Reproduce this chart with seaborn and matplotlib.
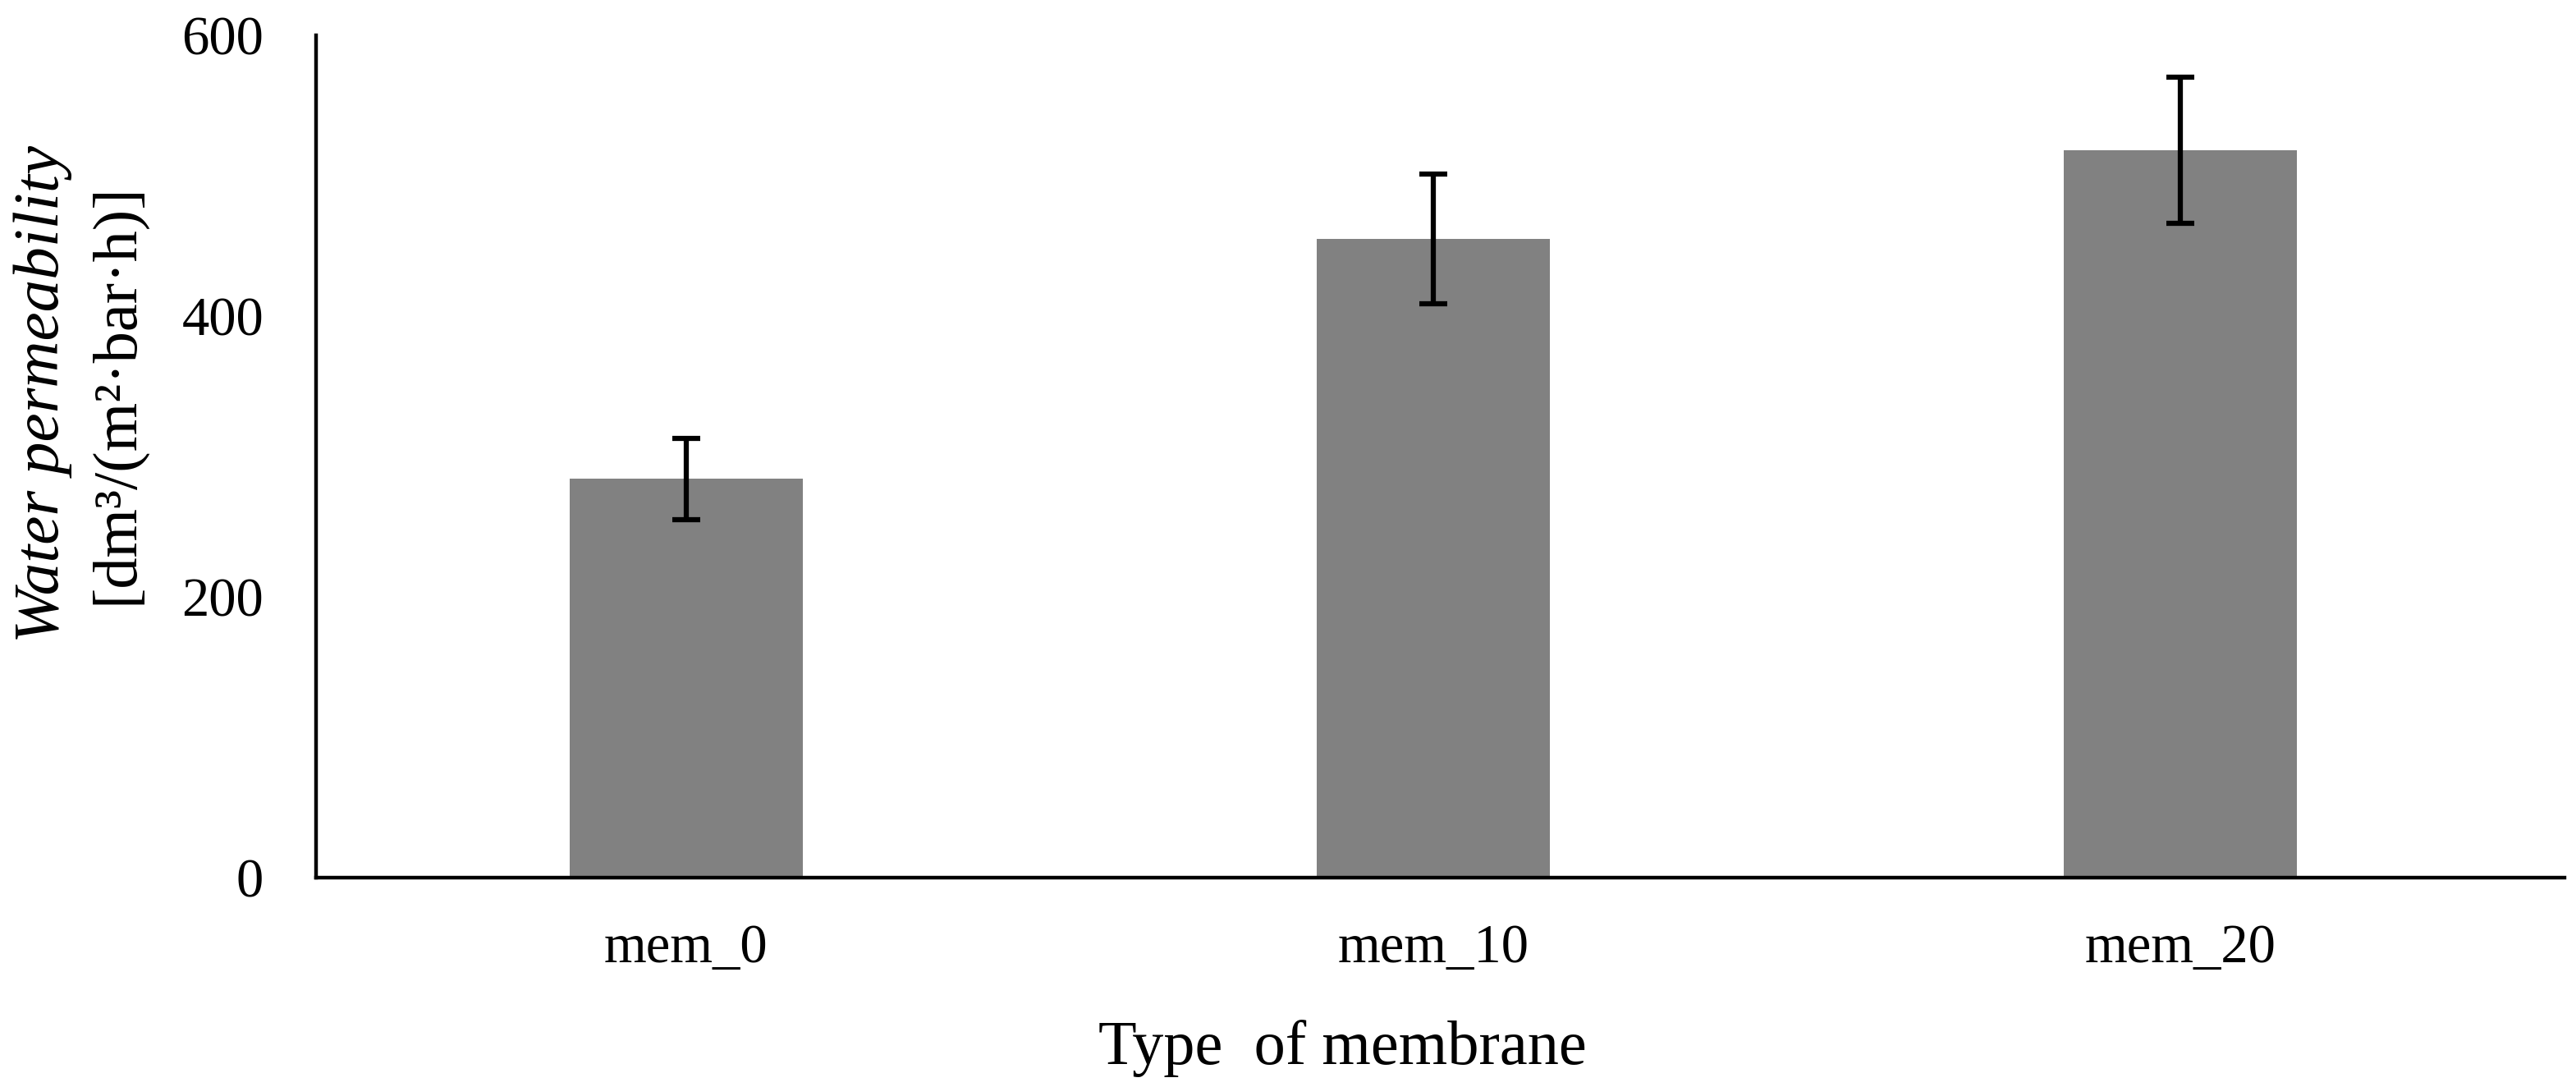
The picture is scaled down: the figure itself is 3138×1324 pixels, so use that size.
import matplotlib
matplotlib.use("Agg")
import matplotlib.pyplot as plt
import numpy as np
import pandas as pd
import seaborn as sns

sns.set_style("white")
plt.rcParams['font.family'] = ['Liberation Serif', 'DejaVu Serif']
plt.rcParams['text.color'] = 'black'
plt.rcParams['xtick.labelcolor'] = 'black'
plt.rcParams['ytick.labelcolor'] = 'black'
plt.rcParams['axes.labelcolor'] = 'black'

membranes = ["mem_0", "mem_10", "mem_20"]
permeability = [284, 455, 518]
perm_err = [29, 46, 52]

df = pd.DataFrame({"Membrane": membranes, "Permeability": permeability})

fig = plt.figure(figsize=(31.38, 13.24), dpi=100)
ax = fig.add_axes([0.1227, 0.1926, 0.8728, 0.7749])

sns.barplot(data=df, x="Membrane", y="Permeability", color="#818181",
            saturation=1, width=0.312, errorbar=None, ax=ax, linewidth=0)
ax.errorbar(np.arange(len(membranes)), permeability, yerr=perm_err, fmt="none",
            ecolor="black", elinewidth=4.5, capsize=12, capthick=4.5)

ax.set_xlim(-0.495, 2.514)
ax.set_ylim(0, 600)
ax.set_yticks([0, 200, 400, 600])

for s in ["top", "right"]:
    ax.spines[s].set_visible(False)
for s in ["left", "bottom"]:
    ax.spines[s].set_linewidth(3.2)
    ax.spines[s].set_color("black")

ax.tick_params(axis="both", length=0, labelsize=48)
ax.tick_params(axis="x", pad=40)
ax.tick_params(axis="y", pad=46)

ax.set_xlabel("Type  of membrane", fontsize=55, va="baseline")
ax.xaxis.set_label_coords(0.4565, -0.221)
ax.set_ylabel("")
# two-line y label: italic quantity, upright unit
ax.text(-0.1214, 0.574, "Water permeability", transform=ax.transAxes, rotation=90,
        fontsize=57, style="italic", ha="center", va="center")
ax.text(-0.0886, 0.574, "[dm³/(m²·bar·h)]", transform=ax.transAxes, rotation=90,
        fontsize=55, ha="center", va="center")

fig.savefig("out.png", dpi=100)
